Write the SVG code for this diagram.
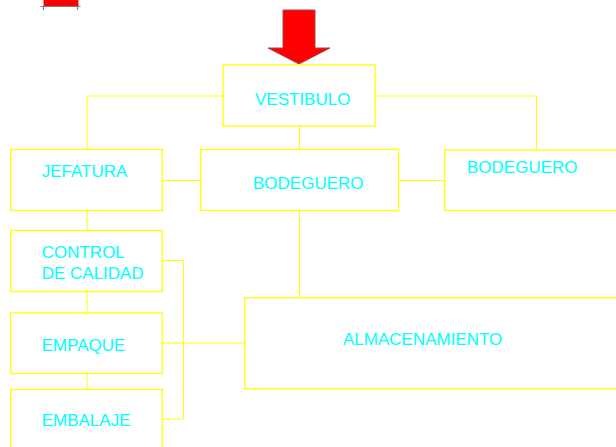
<svg xmlns="http://www.w3.org/2000/svg" width="616" height="447" viewBox="0 0 616 447">
<style>
.box{fill:none;stroke:#ffff00;stroke-width:1.3}
.ln{fill:none;stroke:#ffff00;stroke-width:1}
.t{font-family:"Liberation Sans",Arial,sans-serif;font-size:17px;fill:#00ffff}
</style>
<rect x="0" y="0" width="616" height="447" fill="#ffffff"/>
<g id="marker-top">
<rect x="43.5" y="0" width="35" height="6.5" fill="#ff0000"/>
<path d="M40.5 6.5H80.5M43.5 6V10M77.5 6V10" stroke="#808080" stroke-width="1.2" fill="none"/>
</g>
<g id="arrow">
<path d="M283 10H315V48H330L299 64L268 48H283Z" fill="#ff0000" stroke="#a04848" stroke-width="1"/>
</g>
<g id="connectors">
<path class="ln" d="M223 96H87V150"/>
<path class="ln" d="M375 96H536.5V150"/>
<path class="ln" d="M299.5 126V150"/>
<path class="ln" d="M299.5 210V297.5"/>
<path class="ln" d="M162 180.5H200"/>
<path class="ln" d="M398 180.5H444"/>
<path class="ln" d="M87 210V230"/>
<path class="ln" d="M87 291V313"/>
<path class="ln" d="M87 373V389"/>
<path class="ln" d="M162 260.5H183.5V419H162"/>
<path class="ln" d="M162 343H245"/>
</g>
<g id="vestibulo">
<rect class="box" x="223" y="65" width="152" height="61"/>
<text class="t" x="255" y="105">VESTIBULO</text>
</g>
<g id="jefatura">
<rect class="box" x="10.7" y="149.5" width="151.5" height="61"/>
<text class="t" x="41.7" y="177">JEFATURA</text>
</g>
<g id="bodeguero-1">
<rect class="box" x="200.5" y="149.5" width="198" height="61"/>
<text class="t" x="253" y="189">BODEGUERO</text>
</g>
<g id="bodeguero-2">
<rect class="box" x="444.5" y="150" width="180" height="60.5"/>
<text class="t" x="467" y="173">BODEGUERO</text>
</g>
<g id="control">
<rect class="box" x="10.7" y="230.5" width="151.5" height="61"/>
<text class="t" x="41.7" y="258">CONTROL</text>
<text class="t" x="41.7" y="278.5">DE CALIDAD</text>
</g>
<g id="empaque">
<rect class="box" x="10.7" y="313" width="151.5" height="60.5"/>
<text class="t" x="41.7" y="351">EMPAQUE</text>
</g>
<g id="embalaje">
<rect class="box" x="10.7" y="389.5" width="151.5" height="70"/>
<text class="t" x="41.7" y="426">EMBALAJE</text>
</g>
<g id="almacenamiento">
<rect class="box" x="244.7" y="297.7" width="390" height="91"/>
<text class="t" x="343" y="345">ALMACENAMIENTO</text>
</g>
</svg>
